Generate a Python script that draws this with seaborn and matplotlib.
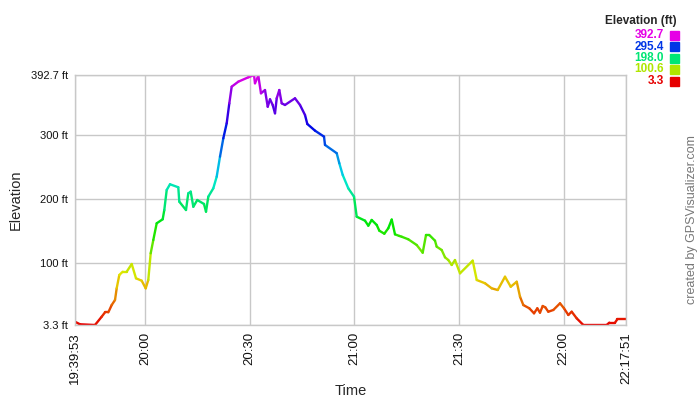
import colorsys
import pandas as pd
import matplotlib
matplotlib.use('Agg')
import matplotlib.pyplot as plt
from matplotlib.colors import ListedColormap
import seaborn as sns

# minutes after the first track point (19:39:53) and elevation in feet
minutes = [0, 1.43, 5.73, 7.65, 8.6, 9.55, 10.52, 11.47, 11.95, 12.7,
           13.67, 14.82, 16.26, 17.49, 19.12, 20.27, 21.01, 21.7, 22.45, 23.42,
           25.14, 25.6, 26.29, 27.24, 29.61, 29.9, 31.82, 32.48, 33.17, 33.92,
           35.06, 36.98, 37.56, 38.22, 39.65, 40.62, 41.57, 42.52, 43.49, 44.24,
           44.92, 46.82, 49.68, 51.32, 51.6, 52.55, 53.32, 54.47, 55.25, 55.91,
           56.68, 57.34, 57.83, 58.57, 59.26, 60.2, 63.07, 64.51, 65.94, 66.6,
           68.81, 71.39, 71.67, 75.03, 75.77, 76.75, 78.35, 79.99, 80.76, 83.14,
           84.09, 85.06, 86.5, 87.24, 88.68, 89.82, 90.8, 91.74, 92.98, 93.66,
           95.55, 97.96, 99.68, 100.63, 101.57, 103.21, 103.69, 105.13, 106.08, 107.02,
           108.0, 108.94, 110.38, 114.02, 115.17, 117.55, 119.47, 121.19, 123.28, 124.92,
           126.64, 127.58, 128.53, 130.25, 131.6, 132.54, 133.31, 134.09, 134.83, 135.69,
           137.13, 139.05, 140.19, 141.43, 142.4, 143.83, 145.73, 152.44, 153.18, 154.81,
           155.47, 157.97]
elevation = [8.4, 4.4, 3.3, 16.2, 23, 23, 34.4, 42.2, 60.4, 81.2,
             86.3, 86.3, 98.3, 76, 72.3, 60.4, 73.4, 115, 135.7, 161.7,
             168, 182.4, 213.6, 222.5, 217.8, 195.4, 182.4, 208.4, 211, 187.5,
             198, 191.8, 179.8, 203.2, 216.2, 234.3, 265.5, 294.1, 317.5, 348.6,
             374.5, 382.3, 389.1, 392.7, 379.8, 391.6, 364.2, 369.3, 343.3, 354.8,
             346, 333, 356.4, 369.3, 348.6, 346, 356.4, 346, 330.4, 316.4,
             306, 296.7, 283.8, 270.9, 255.3, 237, 216.2, 203.2, 172, 165.8,
             158, 166.9, 159.1, 150.2, 145.5, 154, 167.5, 144.5, 142, 140.8,
             136.8, 127.9, 115.9, 143.5, 143.5, 134.6, 125.3, 120.1, 108.7, 104.5,
             96.8, 104.5, 83.8, 103.5, 73.4, 68.3, 60.4, 57.8, 78.5, 62.9,
             70.7, 47.4, 34.4, 29.3, 21.5, 29.3, 22.5, 32.9, 30.8, 24,
             26.7, 37.1, 29.3, 18.9, 24, 13.7, 3.3, 3.3, 6.9, 6.9,
             12.2, 12.2]

start_time = '19:39:53'
end_time = '22:17:51'
tick_times = ['19:39:53', '20:00:00', '20:30:00', '21:00:00', '21:30:00', '22:00:00', '22:17:51']
tick_labels = ['19:39:53', '20:00', '20:30', '21:00', '21:30', '22:00', '22:17:51']
y_ticks = [3.3, 100, 200, 300, 392.7]
y_labels = ['3.3 ft', '100 ft', '200 ft', '300 ft', '392.7 ft']
legend_vals = [392.7, 295.4, 198.0, 100.6, 3.3]
elev_min, elev_max = 3.3, 392.7

# rainbow: red at the bottom, magenta at the top
cmap = ListedColormap([colorsys.hsv_to_rgb(300 / 360 * i / 255, 1, 0.9) for i in range(256)])

day = '2000-01-01 '
t0 = pd.Timestamp(day + start_time)
df = pd.DataFrame({'time': t0 + pd.to_timedelta(minutes, unit='min'), 'elev': elevation})

# one little two-point line per segment so each gets its own colour
rows = []
for i in range(len(df) - 1):
    mid = (df.elev[i] + df.elev[i + 1]) / 2
    for j in (i, i + 1):
        rows.append({'seg': i, 'time': df.time[j], 'elev': df.elev[j], 'mid': mid})
seg_df = pd.DataFrame(rows)

sns.set_style('white')
plt.rcParams['font.family'] = ['Liberation Sans', 'DejaVu Sans']

fig = plt.figure(figsize=(7, 4), dpi=100)
ax = fig.add_axes([75 / 700, 75 / 400, 551 / 700, 250 / 400])

sns.lineplot(data=seg_df, x='time', y='elev', hue='mid', units='seg', estimator=None,
             palette=cmap, hue_norm=(elev_min, elev_max), legend=False, linewidth=1.7, ax=ax)

ax.set_xlim(t0, pd.Timestamp(day + end_time))
ax.set_ylim(elev_min, elev_max)
ax.set_xticks([pd.Timestamp(day + t) for t in tick_times])
ax.set_xticklabels(tick_labels, rotation=90, fontsize=9.5)
ax.set_yticks(y_ticks)
ax.set_yticklabels(y_labels, fontsize=8)
ax.tick_params(length=0, pad=5, colors='#111111')
ax.grid(True, color='#c8c8c8', linewidth=1)
for s in ax.spines.values():
    s.set_color('#c8c8c8')
    s.set_linewidth(1)
ax.set_xlabel('Time', fontsize=10.5, labelpad=0)
ax.set_ylabel('Elevation', fontsize=10.5, labelpad=6)

# colour key in the top right corner
fig.text(677 / 700, 1 - 21 / 400, 'Elevation (ft)', ha='right', va='center', fontsize=8.5, fontweight='bold')
for k, v in enumerate(legend_vals):
    c = cmap((v - elev_min) / (elev_max - elev_min))
    yy = 1 - (35 + k * 11.5) / 400
    fig.text(664 / 700, yy, f'{v:.1f}', ha='right', va='center', fontsize=8.5, fontweight='bold', color=c)
    fig.patches.append(plt.Rectangle((670 / 700, yy - 4.5 / 400), 9 / 700, 9 / 400,
                                     transform=fig.transFigure, color=c))

fig.text(692 / 700, 1 - 220 / 400, 'created by GPSVisualizer.com', rotation=90, ha='center',
         va='center', fontsize=9, color='#777777')

fig.savefig('out.png', dpi=100)
